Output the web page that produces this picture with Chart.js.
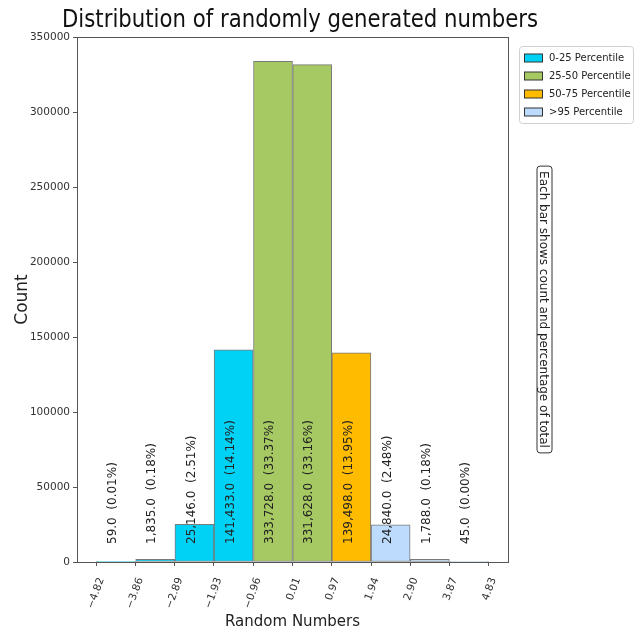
<!DOCTYPE html>
<html>
<head>
<meta charset="utf-8">
<script src="https://cdn.jsdelivr.net/npm/chart.js@4.4.1/dist/chart.umd.min.js"></script>
<style>
  html, body { margin: 0; padding: 0; background: #fff; }
  #wrap { width: 640px; height: 640px; }
</style>
</head>
<body>
<div id="wrap"><canvas id="hist"></canvas></div>
<script>
const binEdges = [-4.82, -3.86, -2.89, -1.93, -0.96, 0.01, 0.97, 1.94, 2.90, 3.87, 4.83];
const tickLabels = ['−4.82', '−3.86', '−2.89', '−1.93', '−0.96', '0.01', '0.97', '1.94', '2.90', '3.87', '4.83'];
const counts = [59, 1835, 25146, 141433, 333728, 331628, 139498, 24840, 1788, 45];
const percents = ['0.01', '0.18', '2.51', '14.14', '33.37', '33.16', '13.95', '2.48', '0.18', '0.00'];
const binGroup = [0, 0, 0, 0, 1, 1, 2, 3, 3, 3];
const groupNames = ['0-25 Percentile', '25-50 Percentile', '50-75 Percentile', '>95 Percentile'];
const groupColors = ['#00d2f6', '#a6c963', '#ffbb00', '#bddcfd'];
const yTicks = [0, 50000, 100000, 150000, 200000, 250000, 300000, 350000];
const titleText = 'Distribution of randomly generated numbers';
const noteText = 'Each bar shows count and percentage of total';

const FONT = "'DejaVu Sans', sans-serif";

// frame around the axes (matplotlib style) and the title above it
const framePlugin = {
    id: 'frame',
    afterDraw(chart) {
        const { ctx, chartArea: a } = chart;
        ctx.save();
        ctx.strokeStyle = '#555';
        ctx.lineWidth = 1;
        ctx.strokeRect(a.left + 0.5, a.top + 0.5, a.right - a.left, a.bottom - a.top);

        ctx.font = '24px ' + FONT;
        ctx.fillStyle = '#111';
        ctx.textAlign = 'center';
        ctx.textBaseline = 'middle';
        ctx.fillText(titleText, 300, 21, 476);
        ctx.restore();
    }
};

// vertical count / percentage text on each bar
const barLabelPlugin = {
    id: 'barLabels',
    afterDatasetsDraw(chart) {
        const ctx = chart.ctx;
        const meta = chart.getDatasetMeta(0);
        const y = chart.scales.y.getPixelForValue(12000);
        ctx.save();
        ctx.font = '12px ' + FONT;
        ctx.fillStyle = '#222';
        ctx.textAlign = 'left';
        ctx.textBaseline = 'middle';
        meta.data.forEach((bar, i) => {
            const text = counts[i].toLocaleString('en-US') + '.0  (' + percents[i] + '%)';
            ctx.save();
            ctx.translate(bar.x - 3, y);
            ctx.rotate(-Math.PI / 2);
            ctx.fillText(text, 0, 0);
            ctx.restore();
        });
        ctx.restore();
    }
};

function roundRect(ctx, x, y, w, h, r) {
    ctx.beginPath();
    ctx.moveTo(x + r, y);
    ctx.arcTo(x + w, y, x + w, y + h, r);
    ctx.arcTo(x + w, y + h, x, y + h, r);
    ctx.arcTo(x, y + h, x, y, r);
    ctx.arcTo(x, y, x + w, y, r);
    ctx.closePath();
}

// legend box and side note, outside the axes on the right
const sidePlugin = {
    id: 'side',
    afterDraw(chart) {
        const ctx = chart.ctx;
        const a = chart.chartArea;
        ctx.save();

        const lx = a.right + 11, ly = a.top + 9;
        roundRect(ctx, lx + 0.5, ly + 0.5, 114, 77, 3);
        ctx.fillStyle = '#fff';
        ctx.fill();
        ctx.strokeStyle = '#d0d0d0';
        ctx.lineWidth = 1;
        ctx.stroke();

        ctx.font = '10px ' + FONT;
        ctx.textBaseline = 'middle';
        ctx.textAlign = 'left';
        groupNames.forEach((name, i) => {
            const cy = ly + 12 + i * 18;
            ctx.fillStyle = groupColors[i];
            ctx.fillRect(lx + 5.5, cy - 4, 18, 8);
            ctx.strokeStyle = '#333';
            ctx.strokeRect(lx + 5.5, cy - 4, 18, 8);
            ctx.fillStyle = '#222';
            ctx.fillText(name, lx + 30, cy);
        });

        ctx.font = '12px ' + FONT;
        const tw = ctx.measureText(noteText).width;
        const cx = 544.5, cy = (a.top + a.bottom) / 2 + 10;
        roundRect(ctx, cx - 7.5, cy - tw / 2 - 5, 15, tw + 10, 3);
        ctx.strokeStyle = '#333';
        ctx.stroke();
        ctx.translate(cx, cy);
        ctx.rotate(Math.PI / 2);
        ctx.textAlign = 'center';
        ctx.fillStyle = '#222';
        ctx.fillText(noteText, 0, 1);
        ctx.restore();
    }
};

const histChart = new Chart(document.getElementById('hist'), {
    type: 'bar',
    data: {
        datasets: [{
            data: counts.map((c, i) => ({ x: (binEdges[i] + binEdges[i + 1]) / 2, y: c })),
            backgroundColor: binGroup.map(g => groupColors[g]),
            borderColor: '#7a7a7a',
            borderWidth: 1,
            borderSkipped: false,
            barPercentage: 1,
            categoryPercentage: 1
        }]
    },
    options: {
        responsive: true,
        maintainAspectRatio: false,
        animation: false,
        layout: { padding: { left: 0, right: 132, top: 37, bottom: 0 } },
        plugins: {
            legend: { display: false },
            tooltip: { enabled: false }
        },
        scales: {
            x: {
                type: 'linear',
                offset: false,
                min: -5.30,
                max: 5.31,
                afterBuildTicks: scale => { scale.ticks = binEdges.map(v => ({ value: v })); },
                afterFit: scale => { scale.height = 78; },
                grid: { drawOnChartArea: false, offset: false, tickLength: 4, color: '#555' },
                border: { display: false },
                ticks: {
                    autoSkip: false,
                    minRotation: 70,
                    maxRotation: 70,
                    labelOffset: 5,
                    padding: 10,
                    color: '#333',
                    font: { family: FONT, size: 10.5 },
                    callback: (v, i) => tickLabels[i]
                },
                title: {
                    display: true,
                    text: 'Random Numbers',
                    color: '#222',
                    font: { family: FONT, size: 15 },
                    padding: { top: 0, bottom: 9 }
                }
            },
            y: {
                min: 0,
                max: 350000,
                afterBuildTicks: scale => { scale.ticks = yTicks.map(v => ({ value: v })); },
                afterFit: scale => { scale.width = 77; },
                grid: { drawOnChartArea: false, tickLength: 4, color: '#555' },
                border: { display: false },
                ticks: {
                    padding: 3,
                    color: '#333',
                    font: { family: FONT, size: 10.5 },
                    callback: v => String(v)
                },
                title: {
                    display: true,
                    text: 'Count',
                    color: '#222',
                    font: { family: FONT, size: 17 },
                    padding: { top: 12, bottom: 0 }
                }
            }
        }
    },
    plugins: [framePlugin, barLabelPlugin, sidePlugin]
});
</script>
</body>
</html>
